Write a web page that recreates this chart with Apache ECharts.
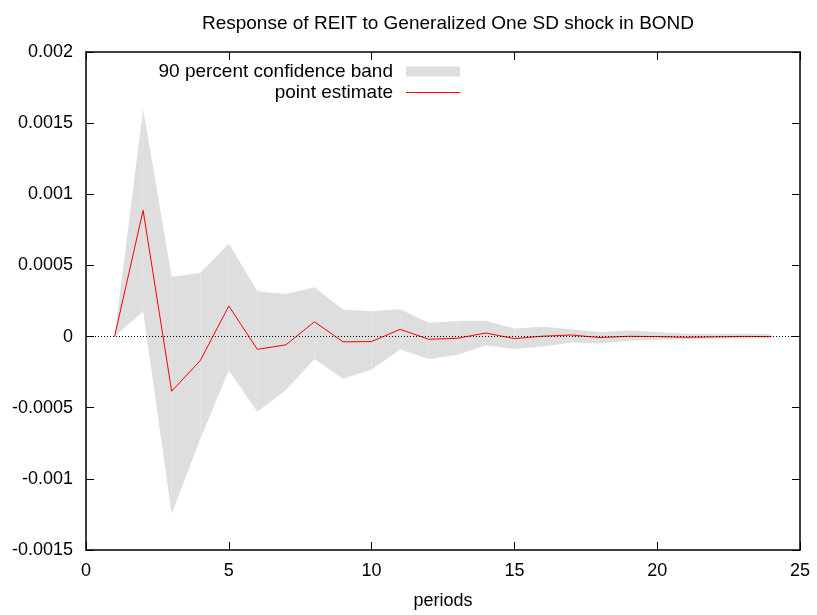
<!DOCTYPE html>
<html>
<head>
<meta charset="utf-8">
<script src="https://cdn.jsdelivr.net/npm/echarts@6/dist/echarts.min.js"></script>
<style>
  html, body { margin: 0; padding: 0; background: #fff; }
  #chart { width: 817px; height: 615px; }
</style>
</head>
<body>
<div id="chart"></div>
<script>
// Impulse response of REIT to a generalized one-SD shock in BOND
const periods = [1, 2, 3, 4, 5, 6, 7, 8, 9, 10, 11, 12, 13, 14, 15, 16, 17, 18, 19, 20, 21, 22, 23, 24];

const pointEstimate = [0, 0.000887, -0.000384, -0.000169, 0.000215, -0.00009, -0.000058, 0.000104,
  -0.000037, -0.000035, 0.000051, -0.000019, -0.000012, 0.000025, -0.000014, 0.000003,
  0.000011, -0.000007, 0.000002, 0.0, -0.000005, -0.000002, 0.000001, 0.0];

const bandUpper = [0, 0.0016, 0.00042, 0.000447, 0.000653, 0.000319, 0.000299, 0.000347,
  0.00019, 0.000178, 0.000192, 0.000097, 0.000109, 0.000111, 0.000056, 0.000069,
  0.000051, 0.000032, 0.000042, 0.000032, 0.000019, 0.00002, 0.00002, 0.000016];

const bandLower = [0, 0.000176, -0.001245, -0.00072, -0.000238, -0.000528, -0.000375, -0.000157,
  -0.000296, -0.000231, -0.00009, -0.000157, -0.000127, -0.000063, -0.000088, -0.000069,
  -0.000042, -0.000049, -0.00003, -0.000023, -0.000018, -0.000015, -0.000014, -0.000013];

const xTicks = [0, 5, 10, 15, 20, 25];
const yTicks = [-0.0015, -0.001, -0.0005, 0, 0.0005, 0.001, 0.0015, 0.002];

const FONT = '"Liberation Sans", Arial, sans-serif';
const FS = 18;
const BAND_COLOR = '#dedede';

// rows: [period, lower, upper]
const bandRows = periods.map((p, i) => [p, bandLower[i], bandUpper[i]]);
const pointPts = periods.map((p, i) => [p, pointEstimate[i]]);

const fmtY = v => String(Math.round(v * 1e4) / 1e4);

const tickStyle = { show: true, inside: true, length: 8, lineStyle: { color: '#000', width: 1 } };
const lineStyleAxis = { show: true, onZero: false, lineStyle: { color: '#000', width: 1.5 } };

// Each band segment is a quadrilateral between consecutive periods
function renderBand(params, api) {
  const i = params.dataIndex;
  if (i >= bandRows.length - 1) return null;
  const a = bandRows[i], b = bandRows[i + 1];
  const pts = [
    api.coord([a[0], a[1]]),
    api.coord([a[0], a[2]]),
    api.coord([b[0], b[2]]),
    api.coord([b[0], b[1]])
  ];
  return {
    type: 'polygon',
    shape: { points: pts },
    style: { fill: BAND_COLOR, stroke: null }
  };
}

const chart = echarts.init(document.getElementById('chart'), null, { renderer: 'canvas' });
chart.setOption({
  animation: false,
  backgroundColor: '#fff',
  textStyle: { fontFamily: FONT },
  title: {
    text: 'Response of REIT to Generalized One SD shock in BOND',
    left: 443, top: 9, textAlign: 'center',
    textStyle: { fontFamily: FONT, fontSize: 19, fontWeight: 'normal', color: '#000' }
  },
  legend: [
    {
      data: [{ name: '90 percent confidence band', icon: 'rect' }],
      orient: 'vertical', align: 'right', right: 357, top: 62,
      itemWidth: 54, itemHeight: 10, padding: 0, selectedMode: false,
      textStyle: { fontFamily: FONT, fontSize: 19, color: '#000', padding: [0, 8, 0, 0] }
    },
    {
      data: [{ name: 'point estimate', icon: 'rect' }],
      orient: 'vertical', align: 'right', right: 357, top: 83,
      itemWidth: 54, itemHeight: 1, padding: 0, selectedMode: false,
      textStyle: { fontFamily: FONT, fontSize: 19, color: '#000', padding: [0, 8, 0, 0] }
    }
  ],
  grid: { left: 86, right: 17, top: 52, bottom: 59, containLabel: false },
  xAxis: [
    {
      type: 'value', min: xTicks[0], max: xTicks[xTicks.length - 1], interval: 5,
      position: 'bottom',
      name: 'periods', nameLocation: 'middle', nameGap: 42,
      nameTextStyle: { fontFamily: FONT, fontSize: FS, color: '#000' },
      axisLine: lineStyleAxis, axisTick: tickStyle,
      axisLabel: { fontFamily: FONT, fontSize: FS, color: '#000', margin: 12 },
      splitLine: { show: false }
    },
    {
      type: 'value', min: xTicks[0], max: xTicks[xTicks.length - 1], interval: 5,
      position: 'top',
      axisLine: lineStyleAxis, axisTick: tickStyle,
      axisLabel: { show: false }, splitLine: { show: false }
    }
  ],
  yAxis: [
    {
      type: 'value', min: yTicks[0], max: yTicks[yTicks.length - 1], interval: 0.0005,
      position: 'left',
      axisLine: lineStyleAxis, axisTick: tickStyle,
      axisLabel: { fontFamily: FONT, fontSize: FS, color: '#000', margin: 13, formatter: fmtY },
      splitLine: { show: false }
    },
    {
      type: 'value', min: yTicks[0], max: yTicks[yTicks.length - 1], interval: 0.0005,
      position: 'right',
      axisLine: lineStyleAxis, axisTick: tickStyle,
      axisLabel: { show: false }, splitLine: { show: false }
    }
  ],
  series: [
    {
      name: '90 percent confidence band',
      type: 'custom',
      renderItem: renderBand,
      data: bandRows,
      encode: { x: 0, y: [1, 2] },
      itemStyle: { color: BAND_COLOR },
      silent: true,
      z: 1
    },
    {
      name: 'zero',
      type: 'line', data: [], symbol: 'none', silent: true, z: 2,
      markLine: {
        silent: true, symbol: 'none', label: { show: false },
        lineStyle: { color: '#000', type: [1, 2], width: 1.2 },
        data: [{ yAxis: 0 }]
      }
    },
    {
      name: 'point estimate',
      type: 'line', data: pointPts, symbol: 'none',
      itemStyle: { color: '#ff0000' },
      lineStyle: { color: '#ff0000', width: 1 },
      z: 3
    }
  ]
});
</script>
</body>
</html>
